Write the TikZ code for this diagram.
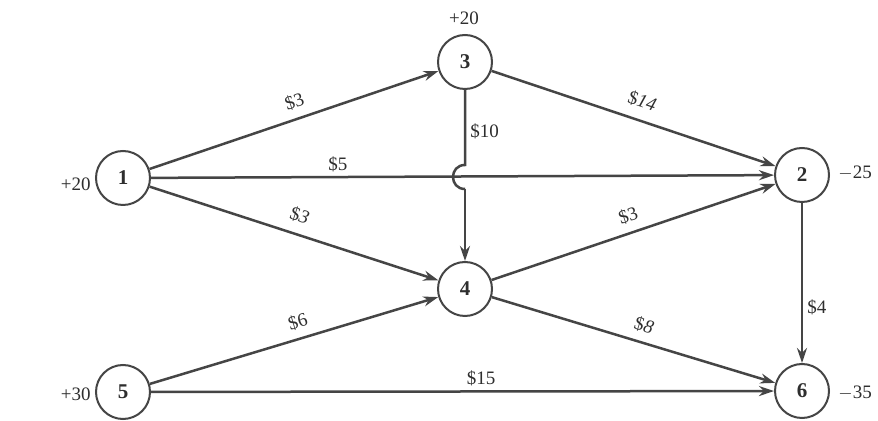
\documentclass[tikz,border=0pt]{standalone}
\usepackage{fontspec}
\setmainfont{Liberation Serif}
\usetikzlibrary{arrows.meta}
\definecolor{linec}{HTML}{454545}
\definecolor{textc}{HTML}{2E2E2E}
\begin{document}
\begin{tikzpicture}[x=0.5pt,y=-0.5pt,
  vtx/.style={circle,draw=linec,line width=1pt,minimum size=27pt,inner sep=0pt,fill=white,
    text=textc,font=\fontsize{10.5}{12}\selectfont\bfseries},
  arc/.style={draw=linec,line width=1.25pt,-{Stealth[length=7.5pt,width=5pt]}},
  plain/.style={draw=linec,line width=1.25pt},
  lbl/.style={font=\fontsize{9.5}{11}\selectfont,text=textc,inner sep=2pt},
  sup/.style={font=\fontsize{9.5}{11}\selectfont,text=textc,inner sep=1pt}]
\useasboundingbox[fill=white] (0,0) rectangle (878,421);
% nodes
\node[vtx] (n1) at (123,178) {1};
\node[vtx] (n3) at (465,62) {3};
\node[vtx] (n2) at (802,175) {2};
\node[vtx] (n4) at (465,289) {4};
\node[vtx] (n5) at (123,392) {5};
\node[vtx] (n6) at (802,391) {6};
% supplies / demands
\node[sup,anchor=east] (s1) at (93,184) {+20};
\node[sup] (s3) at (464,18) {+20};
\node[sup,anchor=west] (s2) at (836,173) {$-$25};
\node[sup,anchor=east] (s5) at (93,394) {+30};
\node[sup,anchor=west] (s6) at (836,393) {$-$35};
% jump coordinates
\coordinate (j1) at (465,165);
\coordinate (j2) at (465,189);
% edges
\draw[arc] (n1) -- node[lbl,sloped,above=2pt,pos=0.52] (l13) {\$3} (n3);
\draw[arc] (n3) -- node[lbl,sloped,above=3pt,pos=0.51] (l32) {\$\textit{14}} (n2);
\draw[arc] (n1) -- node[lbl,above,pos=0.3] (l12) {\$5} (n2);
\draw[arc] (n1) -- node[lbl,sloped,above=3pt,pos=0.5] (l14) {\$\textit{3}} (n4);
\draw[plain] (n3) -- node[lbl,right,pos=0.55] (l34) {\$10} (j1)
   .. controls (449,165) and (449,189) .. (j2);
\draw[arc] (j2) -- (n4);
\draw[arc] (n4) -- node[lbl,sloped,above=2pt,pos=0.5] (l42) {\$3} (n2);
\draw[arc] (n4) -- node[lbl,sloped,above=2pt,pos=0.52] (l46) {\$\textit{8}} (n6);
\draw[arc] (n5) -- node[lbl,sloped,above=2pt,pos=0.53] (l54) {\$6} (n4);
\draw[arc] (n5) -- node[lbl,above,pos=0.53] (l56) {\$15} (n6);
\draw[arc] (n2) -- node[lbl,right,pos=0.65] (l26) {\$4} (n6);
\end{tikzpicture}
\end{document}
